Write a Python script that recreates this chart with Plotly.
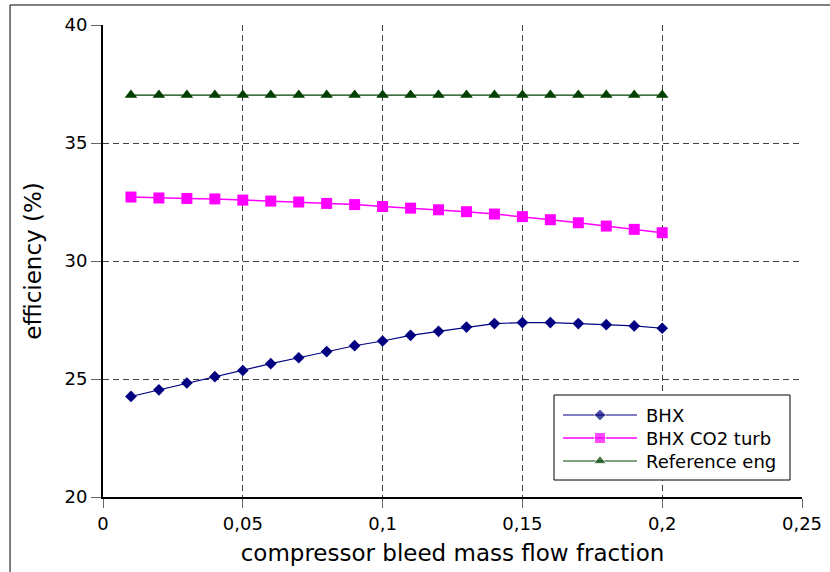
import plotly.graph_objects as go

# compressor bleed mass flow fraction
bleed_fraction = [0.01, 0.02, 0.03, 0.04, 0.05, 0.06, 0.07, 0.08, 0.09, 0.10,
                  0.11, 0.12, 0.13, 0.14, 0.15, 0.16, 0.17, 0.18, 0.19, 0.20]

# efficiency (%) of each configuration
eff_bhx = [24.26, 24.54, 24.83, 25.10, 25.36, 25.65, 25.90, 26.16, 26.41, 26.61,
           26.85, 27.02, 27.20, 27.35, 27.39, 27.39, 27.35, 27.30, 27.25, 27.15]
eff_bhx_co2 = [32.71, 32.67, 32.65, 32.63, 32.58, 32.54, 32.50, 32.44, 32.39, 32.31,
               32.24, 32.17, 32.09, 31.99, 31.88, 31.75, 31.62, 31.48, 31.34, 31.20]
eff_reference = [37.03] * 20

series_names = ["BHX", "BHX CO2 turb", "Reference eng"]

x_tick_vals = [0, 0.05, 0.10, 0.15, 0.20, 0.25]
x_tick_text = ["0", "0,05", "0,1", "0,15", "0,2", "0,25"]
y_tick_vals = [20, 25, 30, 35, 40]
y_tick_text = ["20", "25", "30", "35", "40"]

FONT = "DejaVu Sans"

styles = [
    dict(line=dict(color="#000080", width=1.2),
         marker=dict(symbol="diamond", size=9, color="#000080")),
    dict(line=dict(color="#ff00ff", width=1.5),
         marker=dict(symbol="square", size=11, color="#ff00ff")),
    dict(line=dict(color="#004000", width=1.2),
         marker=dict(symbol="triangle-up", size=11, color="#004000")),
]

fig = go.Figure()
for name, values, st in zip(series_names, [eff_bhx, eff_bhx_co2, eff_reference], styles):
    fig.add_trace(go.Scatter(
        x=bleed_fraction, y=values, name=name, mode="lines+markers",
        line=st["line"], marker=st["marker"], showlegend=False,
    ))

# Legend drawn on an overlay axis measured in page pixels
PLOT_L, PLOT_R, PLOT_T, PLOT_B = 103, 802, 25, 497
LEG_X0, LEG_X1, LEG_Y0, LEG_Y1 = 554, 790, 395, 480
LEG_ROWS = [415, 438, 461]
SYM_X0, SYM_X1, TEXT_X = 563, 637, 644

# white legend panel with a thin black frame
fig.add_trace(go.Scatter(
    x=[LEG_X0, LEG_X1, LEG_X1, LEG_X0, LEG_X0],
    y=[LEG_Y0, LEG_Y0, LEG_Y1, LEG_Y1, LEG_Y0],
    mode="lines", fill="toself", fillcolor="white",
    line=dict(color="black", width=1),
    xaxis="x2", yaxis="y2", showlegend=False, hoverinfo="skip",
))

annotations = []
for name, row_y, st in zip(series_names, LEG_ROWS, styles):
    sym_mid = (SYM_X0 + SYM_X1) / 2
    fig.add_trace(go.Scatter(
        x=[SYM_X0, sym_mid, SYM_X1], y=[row_y] * 3, mode="lines+markers",
        xaxis="x2", yaxis="y2", showlegend=False, hoverinfo="skip",
        line=st["line"],
        marker=dict(symbol=st["marker"]["symbol"], color=st["marker"]["color"],
                    size=[0, st["marker"]["size"], 0]),
    ))
    annotations.append(dict(
        x=TEXT_X, y=row_y, xref="x2", yref="y2", text=name, showarrow=False,
        xanchor="left", yanchor="middle",
        font=dict(family=FONT, size=18, color="black"),
    ))

grid = dict(showgrid=True, gridcolor="#444444", gridwidth=1, griddash="6px,4px")

fig.update_layout(
    width=830, height=572,
    margin=dict(l=PLOT_L, r=830 - PLOT_R, t=PLOT_T, b=572 - PLOT_B, autoexpand=False),
    paper_bgcolor="white", plot_bgcolor="white",
    font=dict(family=FONT, size=18, color="black"),
    showlegend=False,
    xaxis=dict(
        range=[0, 0.25], tickvals=x_tick_vals, ticktext=x_tick_text,
        ticks="outside", ticklen=9, tickcolor="#666666", tickwidth=1,
        showline=True, linecolor="black", linewidth=2,
        zeroline=False, automargin=False,
        tickfont=dict(family=FONT, size=18),
        title=dict(text="compressor bleed mass flow fraction",
                   font=dict(family=FONT, size=23), standoff=12),
        **grid,
    ),
    yaxis=dict(
        range=[20, 40], tickvals=y_tick_vals, ticktext=y_tick_text,
        ticks="outside", ticklen=10, tickcolor="#666666", tickwidth=1,
        showline=True, linecolor="black", linewidth=2,
        zeroline=False, automargin=False,
        tickfont=dict(family=FONT, size=18),
        title=dict(text="efficiency (%)",
                   font=dict(family=FONT, size=23), standoff=16),
        **grid,
    ),
    xaxis2=dict(overlaying="x", range=[PLOT_L, PLOT_R], visible=False, fixedrange=True),
    yaxis2=dict(overlaying="y", range=[PLOT_B, PLOT_T], visible=False, fixedrange=True),
    annotations=annotations,
    shapes=[
        # outer chart frame, running past the right and bottom page edges
        dict(type="rect", xref="paper", yref="paper",
             x0=-0.133, y0=-0.3, x1=1.2, y1=1.0424,
             line=dict(color="black", width=1), fillcolor="rgba(0,0,0,0)",
             layer="below"),
    ],
)

fig.write_html("out.html")
